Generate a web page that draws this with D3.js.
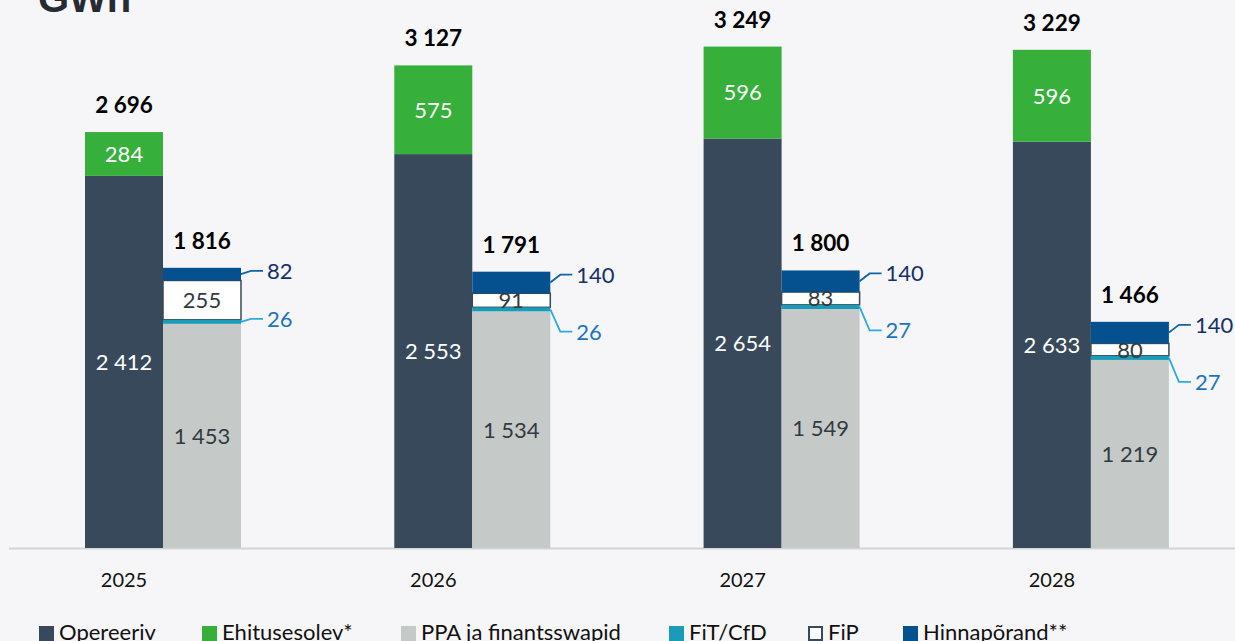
<!DOCTYPE html>
<html><head><meta charset="utf-8">
<script src="https://cdn.jsdelivr.net/npm/d3@7"></script>
<style>
html,body{margin:0;padding:0;background:#f6f6f8;}
svg{display:block;}
</style></head>
<body>
<svg id="chart" width="1235" height="641"></svg>
<script>
const years = ["2025","2026","2027","2028"];
const opereeriv = [2412, 2553, 2654, 2633];
const ehitusesolev = [284, 575, 596, 596];
const totalLeft = ["2 696","3 127","3 249","3 229"];
const ppa = [1453, 1534, 1549, 1219];
const fit = [26, 26, 27, 27];
const fip = [255, 91, 83, 80];
const hinnap = [82, 140, 140, 140];
const totalRight = ["1 816","1 791","1 800","1 466"];
const legendLabels = ["Opereeriv","Ehitusesolev*","PPA ja finantsswapid","FiT/CfD","FiP","Hinnapõrand**"];

const colors = {
  oper:"#37495a", ehit:"#36b03a", ppa:"#c5cac9", fit:"#1a9bb8", fip:"#ffffff", hinn:"#05508f"
};
const fmt = v => d3.format(",")(v).replace(/,/g," ");
const font = "Lato, 'Open Sans', sans-serif";

const svg = d3.select("#chart");

const x = d3.scaleBand().domain(years).range([8, 1245.2]);
const sub = d3.scaleBand().domain(["L","R"]).range([77, 233]);
const y = d3.scaleLinear().domain([0, 3500]).range([548, 8]);
const bw = sub.bandwidth();

// Title
svg.append("text").attr("x", 38).attr("y", 12)
  .attr("font-family","'Liberation Sans', Arial, sans-serif").attr("font-weight","bold")
  .attr("font-size", 40).attr("fill","#262a33").text("GWh");

// baseline
svg.append("line").attr("x1", 9).attr("x2", 1235).attr("y1", 548.5).attr("y2", 548.5)
  .attr("stroke","#d4d4d6").attr("stroke-width", 2);

years.forEach((yr, i) => {
  const g = svg.append("g");
  const xl = x(yr) + sub("L");
  const xr = x(yr) + sub("R");
  // Left stack
  const leftSegs = [
    {k:"oper", v:opereeriv[i], lc:"#ffffff"},
    {k:"ehit", v:ehitusesolev[i], lc:"#ffffff"}
  ];
  let acc = 0;
  leftSegs.forEach(s => {
    const y0 = y(acc), y1 = y(acc + s.v);
    g.append("rect").attr("x", xl).attr("y", y1).attr("width", bw).attr("height", y0 - y1)
      .attr("fill", colors[s.k]);
    g.append("text").attr("x", xl + bw/2).attr("y", (y0 + y1)/2).attr("dy","0.36em")
      .attr("text-anchor","middle").attr("font-family", font).attr("font-size", 22)
      .attr("fill", s.lc).text(fmt(s.v));
    acc += s.v;
  });
  g.append("text").attr("x", xl + bw/2).attr("y", y(acc) - 19)
    .attr("text-anchor","middle").attr("font-family", font).attr("font-weight","bold")
    .attr("font-size", 22.5).attr("fill","#000").text(totalLeft[i]);

  // Right stack
  const rightSegs = [
    {k:"ppa", v:ppa[i]},
    {k:"fit", v:fit[i]},
    {k:"fip", v:fip[i]},
    {k:"hinn", v:hinnap[i]}
  ];
  acc = 0;
  const pos = {};
  rightSegs.forEach(s => {
    const y0 = y(acc), y1 = y(acc + s.v);
    pos[s.k] = {y0, y1, mid:(y0+y1)/2};
    acc += s.v;
  });
  g.append("rect").attr("x", xr).attr("y", pos.ppa.y1).attr("width", bw).attr("height", pos.ppa.y0 - pos.ppa.y1).attr("fill", colors.ppa);
  g.append("rect").attr("x", xr).attr("y", pos.fip.y1).attr("width", bw).attr("height", pos.fip.y0 - pos.fip.y1)
    .attr("fill", colors.fip).attr("stroke", colors.oper).attr("stroke-width", 1.5);
  g.append("rect").attr("x", xr).attr("y", pos.fit.y1).attr("width", bw).attr("height", pos.fit.y0 - pos.fit.y1).attr("fill", colors.fit);
  g.append("rect").attr("x", xr).attr("y", pos.hinn.y1).attr("width", bw).attr("height", pos.hinn.y0 - pos.hinn.y1).attr("fill", colors.hinn);

  g.append("text").attr("x", xr + bw/2).attr("y", pos.ppa.mid).attr("dy","0.36em")
    .attr("text-anchor","middle").attr("font-family", font).attr("font-size", 22)
    .attr("fill","#333a40").text(fmt(ppa[i]));
  g.append("text").attr("x", xr + bw/2).attr("y", pos.fip.mid).attr("dy","0.36em")
    .attr("text-anchor","middle").attr("font-family", font).attr("font-size", 22)
    .attr("fill","#333a40").text(fmt(fip[i]));

  g.append("text").attr("x", xr + bw/2).attr("y", y(acc) - 19)
    .attr("text-anchor","middle").attr("font-family", font).attr("font-weight","bold")
    .attr("font-size", 22.5).attr("fill","#000").text(totalRight[i]);

  // callouts
  const edge = xr + bw;
  const hY = pos.hinn.y1 + 3;
  const fY = fip[i] < 150 ? hY + 57 : pos.fit.mid - 3;
  g.append("path").attr("d", `M${edge},${pos.hinn.mid}L${edge+10},${hY}L${edge+22},${hY}`)
    .attr("fill","none").attr("stroke","#1262a8").attr("stroke-width",1.8);
  g.append("text").attr("x", edge + 26).attr("y", hY).attr("dy","0.36em")
    .attr("font-family", font).attr("font-size", 22).attr("fill","#14306b").text(fmt(hinnap[i]));
  g.append("path").attr("d", `M${edge},${pos.fit.mid}L${edge+10},${fY}L${edge+22},${fY}`)
    .attr("fill","none").attr("stroke","#29abe2").attr("stroke-width",1.8);
  g.append("text").attr("x", edge + 26).attr("y", fY).attr("dy","0.36em")
    .attr("font-family", font).attr("font-size", 22).attr("fill","#1b75bc").text(fmt(fit[i]));

  // year label
  svg.append("text").attr("x", xl + bw/2).attr("y", 587)
    .attr("text-anchor","middle").attr("font-family", font).attr("font-size", 20)
    .attr("fill","#111").text(yr);
});

// Legend
const legendKeys = ["oper","ehit","ppa","fit","fip","hinn"];
const legendX = [39, 202, 401, 669, 808, 903];
legendKeys.forEach((k, i) => {
  const lg = svg.append("g").attr("transform", `translate(${legendX[i]},0)`);
  const isFip = k === "fip";
  lg.append("rect").attr("x", isFip ? 1 : 0).attr("y", isFip ? 627 : 626)
    .attr("width", isFip ? 13 : 15).attr("height", isFip ? 13 : 15)
    .attr("fill", colors[k]).attr("stroke", isFip ? colors.oper : "none").attr("stroke-width", 2);
  lg.append("text").attr("x", 20).attr("y", 640)
    .attr("font-family", font).attr("font-size", 22).attr("fill","#111").text(legendLabels[i]);
});
</script>
</body></html>
